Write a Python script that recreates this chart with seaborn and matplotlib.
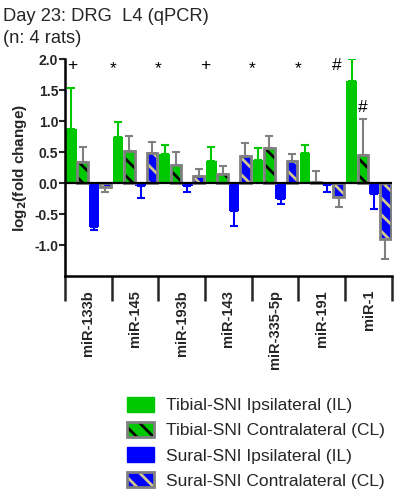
import pandas as pd
import seaborn as sns
import matplotlib.pyplot as plt
from matplotlib import rcParams
from matplotlib.patches import Patch, Rectangle
from matplotlib.legend_handler import HandlerTuple

mirnas = ["miR-133b", "miR-145", "miR-193b", "miR-143", "miR-335-5p", "miR-191", "miR-1"]
groups = ["Tibial-SNI Ipsilateral (IL)", "Tibial-SNI Contralateral (CL)",
          "Sural-SNI Ipsilateral (IL)", "Sural-SNI Contralateral (CL)"]

# log2 fold change and SEM (one-sided) per group
tibial_il = [0.87, 0.75, 0.47, 0.36, 0.38, 0.49, 1.65]
tibial_il_err = [0.66, 0.23, 0.14, 0.22, 0.18, 0.12, 0.36]
tibial_cl = [0.34, 0.52, 0.30, 0.15, 0.56, 0.01, 0.45]
tibial_cl_err = [0.24, 0.24, 0.20, 0.13, 0.20, 0.18, 0.58]
sural_il = [-0.71, -0.05, -0.05, -0.45, -0.25, -0.03, -0.18]
sural_il_err = [0.04, 0.19, 0.09, 0.24, 0.08, 0.11, 0.23]
sural_cl = [-0.07, 0.48, 0.11, 0.44, 0.36, -0.22, -0.90]
sural_cl_err = [0.07, 0.19, 0.12, 0.21, 0.11, 0.16, 0.33]

# significance marks: (symbol, miRNA index, x offset, y)
sig_marks = [("+", 0, -0.34, 1.90), ("*", 1, -0.47, 1.85), ("*", 2, -0.5, 1.85),
             ("+", 3, -0.5, 1.90), ("*", 4, -0.5, 1.85), ("*", 5, -0.5, 1.85),
             ("#", 6, -0.68, 1.89), ("#", 6, -0.12, 1.22)]

GREEN = "#00c800"
BLUE = "#0000ff"
GRAY = "#808080"
KHAKI = "#d2c88c"


def plot_day23():
    sns.set_style("ticks")
    rcParams['font.family'] = ['Liberation Sans', 'DejaVu Sans']
    rcParams['axes.unicode_minus'] = False
    rcParams['hatch.linewidth'] = 2.0

    values = [tibial_il, tibial_cl, sural_il, sural_cl]
    errors = [tibial_il_err, tibial_cl_err, sural_il_err, sural_cl_err]
    rows = []
    for g, vals in zip(groups, values):
        for m, v in zip(mirnas, vals):
            rows.append({"mirna": m, "group": g, "value": v})
    df = pd.DataFrame(rows)

    fig = plt.figure(figsize=(3.97, 4.93), dpi=100)
    ax = fig.add_axes([0.164, 0.440, 0.823, 0.440])
    sns.barplot(data=df, x="mirna", y="value", hue="group", order=mirnas,
                hue_order=groups, palette=[GREEN, GREEN, BLUE, BLUE],
                saturation=1, width=0.97, gap=0.06, linewidth=0,
                legend=False, ax=ax)

    hatched = [False, True, False, True]
    hatch_cols = [None, "black", None, KHAKI]
    err_cols = [GREEN, GRAY, BLUE, GRAY]
    bar_conts = list(ax.containers)
    for k, cont in enumerate(bar_conts):
        for i, bar in enumerate(cont.patches):
            x = bar.get_x() + bar.get_width() / 2
            v = values[k][i]
            e = errors[k][i]
            yerr = [[0], [e]] if v >= 0 else [[e], [0]]
            ax.errorbar(x, v, yerr=yerr, fmt="none", ecolor=err_cols[k],
                        elinewidth=1.5, capsize=3, capthick=1.5, zorder=1)
            if hatched[k]:
                bar.set_hatch("\\\\")
                bar.set_edgecolor(hatch_cols[k])
                bar.set_linewidth(0)
                ax.add_patch(Rectangle((bar.get_x(), bar.get_y()), bar.get_width(),
                                       bar.get_height(), fill=False,
                                       edgecolor=GRAY, linewidth=2, zorder=3))

    ax.axhline(0, color="black", linewidth=1.6, zorder=4)

    for sym, i, dx, y in sig_marks:
        ax.text(i + dx, y, sym, ha="center", va="center", fontsize=12.5, color="black")

    ax.set_xlim(-0.5, len(mirnas) - 0.5)
    ax.set_ylim(-1.5, 2.0)
    ax.set_yticks([-1.0, -0.5, 0.0, 0.5, 1.0, 1.5, 2.0])
    ax.set_yticklabels(["%.1f" % t for t in ax.get_yticks()], fontweight="bold", fontsize=10)
    ax.set_xticks([i - 0.5 for i in range(len(mirnas) + 1)])
    ax.set_xticklabels([])
    ax.set_xticks(range(len(mirnas)), minor=True)
    ax.set_xticklabels(mirnas, minor=True, rotation=90, fontweight="bold", fontsize=10.5)
    ax.tick_params(axis="x", which="major", length=18, width=1.8, direction="out")
    ax.tick_params(axis="x", which="minor", length=0, pad=10)
    ax.tick_params(axis="y", length=4, width=1.5, pad=1)
    ax.set_xlabel("")
    ax.set_ylabel(r"log$_\mathbf{2}$(fold change)", fontsize=11, fontweight="bold", labelpad=4)
    sns.despine(ax=ax)
    for s in ["left", "bottom"]:
        ax.spines[s].set_linewidth(1.8)
        ax.spines[s].set_color("black")

    fig.text(0.008, 1 - 21 / 493, "Day 23: DRG  L4 (qPCR)", fontsize=13.2, va="baseline")
    fig.text(0.008, 1 - 43 / 493, "(n: 4 rats)", fontsize=13.2, va="baseline")

    handles = [
        Patch(facecolor=GREEN, edgecolor=GREEN),
        (Patch(facecolor=GREEN, edgecolor="black", hatch="\\\\", linewidth=0),
         Patch(fill=False, edgecolor=GRAY, linewidth=2)),
        Patch(facecolor=BLUE, edgecolor=BLUE),
        (Patch(facecolor=BLUE, edgecolor=KHAKI, hatch="\\\\", linewidth=0),
         Patch(fill=False, edgecolor=GRAY, linewidth=2)),
    ]
    fig.legend(handles, groups, loc="upper left", bbox_to_anchor=(127 / 397, 1 - 397 / 493),
               frameon=False, fontsize=12.5, borderpad=0, borderaxespad=0,
               handlelength=1.55, handleheight=0.92, labelspacing=0.51, handletextpad=0.7,
               handler_map={tuple: HandlerTuple(ndivide=1)})

    plt.savefig("out.png", dpi=100)


if __name__ == '__main__':
    plot_day23()
